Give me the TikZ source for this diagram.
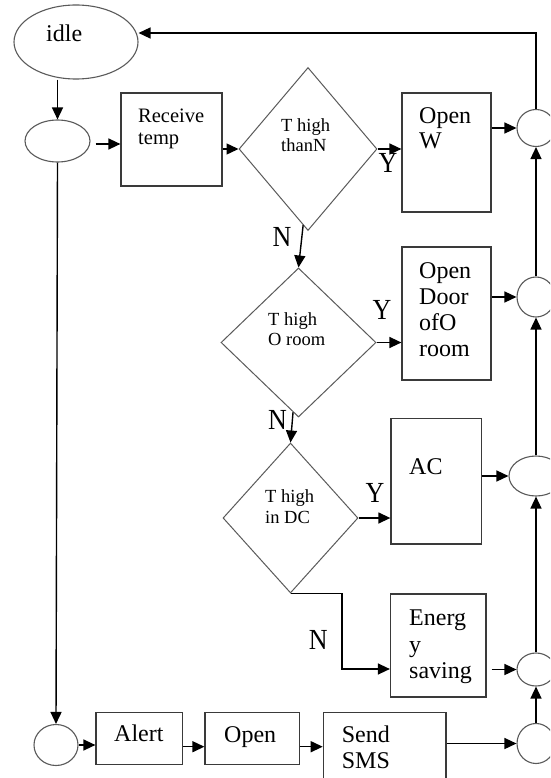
\documentclass[tikz,border=0pt]{standalone}
\usepackage{fontspec}
\setmainfont{Liberation Serif}
\usetikzlibrary{arrows.meta,shapes.geometric,calc}
\definecolor{boxgray}{HTML}{3A3A3A}
\definecolor{diagray}{HTML}{5A5A5A}
\tikzset{
  boxn/.style={draw=boxgray, line width=1.2pt, rectangle, inner sep=0pt},
  ell/.style={draw=diagray, line width=1.1pt, ellipse, inner sep=0pt},
  dia/.style={draw=diagray, line width=1pt, diamond, inner sep=0pt},
  arr/.style={draw=black, line width=1.4pt, -{Triangle[length=12pt,width=11pt]}},
  boxt/.style={font=\fontsize{24}{26}\selectfont, anchor=base west, inner sep=0pt},
  rcvt/.style={font=\fontsize{20.5}{22}\selectfont, anchor=base west, inner sep=0pt},
  diat/.style={font=\fontsize{18.5}{20}\selectfont, anchor=base west, inner sep=0pt},
  ynt/.style={font=\fontsize{26}{28}\selectfont, anchor=base, inner sep=0pt, yscale=1.12},
}
\begin{document}
\begin{tikzpicture}[x=1pt,y=-1pt]
\useasboundingbox (0,0) rectangle (550,778);
\clip (0,0) rectangle (550,778);
\fill[white] (0,0) rectangle (550,778);

% shapes
\node[ell, minimum width=124pt, minimum height=74pt] (idle) at (76,42) {};
\node[ell, minimum width=65pt, minimum height=42pt] (c0) at (57.5,141) {};
\node[boxn, minimum width=101pt, minimum height=93pt] (recv) at (171.5,139.5) {};
\node[dia, minimum width=138pt, minimum height=163pt] (d1) at (308,149) {};
\node[boxn, minimum width=89pt, minimum height=119pt] (openw) at (446.5,152.5) {};
\node[dia, minimum width=155pt, minimum height=149pt] (d2) at (298.5,342.5) {};
\node[boxn, minimum width=89pt, minimum height=133pt] (door) at (446.5,313.5) {};
\node[dia, minimum width=135pt, minimum height=150pt] (d3) at (290.5,518) {};
\node[boxn, minimum width=90.7pt, minimum height=125.7pt] (ac) at (436.3,481.2) {};
\node[boxn, minimum width=95.5pt, minimum height=103pt] (energy) at (438.25,645.5) {};
\node[ell, minimum width=44pt, minimum height=41pt] (bl) at (56,745) {};
\node[boxn, minimum width=86.7pt, minimum height=51.6pt] (alert) at (139.35,738.5) {};
\node[boxn, minimum width=94.5pt, minimum height=51.6pt] (openb) at (252.25,738.5) {};
\node[boxn, minimum width=122.7pt, minimum height=87.3pt] (sms) at (384.65,756.35) {};
\node[ell, minimum width=38pt, minimum height=37pt] (r1) at (536,128) {};
\node[ell, minimum width=38pt, minimum height=40pt] (r2) at (536,297) {};
\node[ell, minimum width=54pt, minimum height=40pt] (r3) at (536,476) {};
\node[ell, minimum width=38pt, minimum height=33pt] (r4) at (536,669.5) {};
\node[ell, minimum width=38pt, minimum height=40pt] (r5) at (536,743.5) {};

% texts
\node[boxt] (tidle) at (46,41.7) {idle};
\node[rcvt] (trecv1) at (138,123) {Receive};
\node[rcvt] (trecv2) at (138,145) {temp};
\node[diat] (td1a) at (281,131.7) {T high};
\node[diat] (td1b) at (281,151.7) {thanN};
\node[boxt] (tow1) at (419,124) {Open};
\node[boxt] (tow2) at (419,149) {W};
\node[diat] (td2a) at (268,325) {T high};
\node[diat] (td2b) at (268,345) {O room};
\node[boxt] (tdo1) at (419,278) {Open};
\node[boxt] (tdo2) at (419,304) {Door};
\node[boxt] (tdo3) at (419,330) {ofO};
\node[boxt] (tdo4) at (419,356.5) {room};
\node[diat] (td3a) at (265,502.7) {T high};
\node[diat] (td3b) at (265,523.3) {in DC};
\node[boxt] (tac) at (409,474) {AC};
\node[boxt] (ten1) at (409,625.5) {Energ};
\node[boxt] (ten2) at (409,652) {y};
\node[boxt] (ten3) at (409,678.5) {saving};
\node[boxt] (tal) at (114,741.7) {Alert};
\node[boxt] (top) at (224,742.7) {Open};
\node[boxt] (tsm1) at (341.7,742.7) {Send};
\node[boxt] (tsm2) at (341.7,768.3) {SMS};
\node[ynt] (y1) at (388,172.7) {Y};
\node[ynt] (y2) at (382,319.3) {Y};
\node[ynt] (y3) at (375,502.7) {Y};
\node[ynt] (n1) at (282,246.7) {N};
\node[ynt] (n2) at (277.5,429.3) {N};
\node[ynt] (n3) at (318.3,649) {N};

% connectors
\coordinate (tr) at (536,33);
\coordinate (bend) at (342,669);
\draw[arr] (c0.north |- idle.south) -- (c0.north);
\draw[arr] ([xshift=5pt]c0.east |- 0,144) -- (recv.west |- 0,144);
\draw[arr] (recv.east |- d1.west) -- (d1.west);
\draw[arr] (d1.east) -- (d1.east -| openw.west);
\draw[arr] (openw.east |- r1.west) -- (r1.west);
\draw[arr] (r1.north) -- (tr) -- (tr -| idle.east);
\draw[arr] ($(d1.south)!0.07!(d1.west)$) -- (d2.north);
\draw[arr] (d2.east) -- (d2.east -| door.west);
\draw[arr] (door.east |- r2.west) -- (r2.west);
\draw[arr] ($(d2.south)!0.07!(d2.west)$) -- (d3.north);
\draw[arr] (d3.east) -- (d3.east -| ac.west);
\draw[arr] (ac.east |- r3.west) -- (r3.west);
\draw[arr] (d3.south) -| (bend) -- (bend -| energy.west);
\draw[arr, shorten <=5pt] (energy.east |- r4.west) -- (r4.west);
\draw[arr] (r2.north) -- (r1.south);
\draw[arr] (r3.north) -- (r2.south);
\draw[arr] (r4.north) -- (r3.south);
\draw[arr] (r5.north) -- (r4.south);
\draw[arr] (c0.south) -- (bl.north);
\draw[arr] (bl.east) -- (bl.east -| alert.west);
\draw[arr] (alert.east |- 0,746.7) -- (openb.west |- 0,746.7);
\draw[arr] (openb.east |- 0,746.7) -- (sms.west |- 0,746.7);
\draw[arr] (sms.east |- r5.west) -- (r5.west);
\end{tikzpicture}
\end{document}
